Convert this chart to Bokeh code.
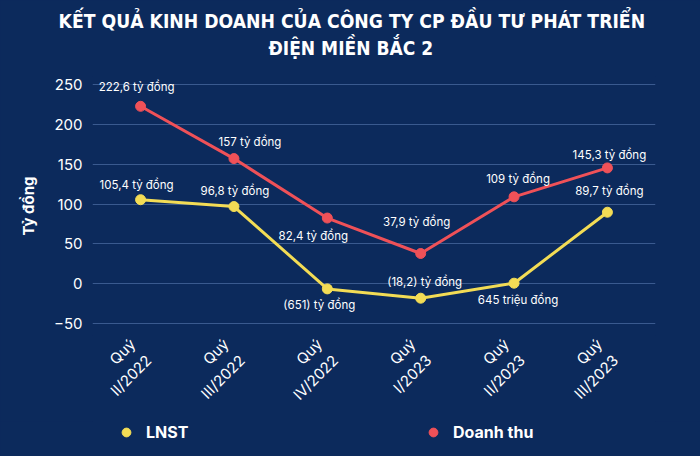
import math
from bokeh.plotting import figure
from bokeh.layouts import column
from bokeh.models import Title, Legend, LegendItem, FixedTicker, ColumnDataSource, Range1d
from bokeh.core.properties import value
from bokeh.embed import file_html
from bokeh.resources import INLINE

title_lines = ["KẾT QUẢ KINH DOANH CỦA CÔNG TY CP ĐẦU TƯ PHÁT TRIỂN", "ĐIỆN MIỀN BẮC 2"]
quarters = ["Quý\nII/2022", "Quý\nIII/2022", "Quý\nIV/2022", "Quý\nI/2023", "Quý\nII/2023", "Quý\nIII/2023"]
revenue = [222.6, 157, 82.4, 37.9, 109, 145.3]
profit = [105.4, 96.8, -6.51, -18.2, 0.645, 89.7]
revenue_labels = ["222,6 tỷ đồng", "157 tỷ đồng", "82,4 tỷ đồng", "37,9 tỷ đồng", "109 tỷ đồng", "145,3 tỷ đồng"]
profit_labels = ["105,4 tỷ đồng", "96,8 tỷ đồng", "(651) tỷ đồng", "(18,2) tỷ đồng", "645 triệu đồng", "89,7 tỷ đồng"]
y_ticks = [-50, 0, 50, 100, 150, 200, 250]

BG = "#0c2a5c"
RED = "#ef5158"
YELLOW = "#f3dc55"
GRID = "#3a5a8f"
FONT = "Inter"
TFONT = "DejaVu Sans Condensed"

FL, FW, FR = 92, 563, 45  # left border, frame width, right border

# ---- main chart ----
xs = list(range(len(quarters)))
p = figure(frame_width=FW, frame_height=259, output_backend="svg", toolbar_location=None,
           x_range=Range1d(-0.515, 5.515), y_range=Range1d(-65, 260),
           min_border_left=FL, min_border_right=FR, min_border_top=0, min_border_bottom=0)
p.background_fill_color = BG
p.border_fill_color = BG
p.outline_line_color = None

# titles stacked above the frame (nearest first)
gap_near = Title(text=" ", text_font_size="1px", standoff=13, text_color=BG)
t2 = Title(text=title_lines[1], align="left", text_color="white",
           text_font=TFONT, text_font_size="19px", text_font_style="bold",
           standoff=2.4, offset=176)
t1 = Title(text=title_lines[0], align="left", text_color="white",
           text_font=TFONT, text_font_size="19.2px", text_font_style="bold",
           standoff=2.4, offset=-34)
gap_top = Title(text=" ", text_font_size="1px", standoff=4, text_color=BG)
p.add_layout(gap_near, "above")
p.add_layout(t2, "above")
p.add_layout(t1, "above")
p.add_layout(gap_top, "above")

p.xgrid.grid_line_color = None
p.ygrid.grid_line_color = GRID
p.ygrid.grid_line_width = 1
p.yaxis.ticker = FixedTicker(ticks=y_ticks)
p.xaxis.ticker = FixedTicker(ticks=xs)
p.xaxis.major_label_overrides = {i: q for i, q in enumerate(quarters)}

for ax in (p.xaxis, p.yaxis):
    ax.axis_line_color = None
    ax.major_tick_line_color = None
    ax.minor_tick_line_color = None
    ax.major_tick_out = 0
    ax.major_tick_in = 0
    ax.minor_tick_out = 0
    ax.major_label_text_color = "white"
    ax.major_label_text_font = FONT
    ax.major_label_text_font_size = "15px"

p.xaxis.major_label_orientation = math.pi / 4
p.xaxis.major_label_standoff = 14
p.yaxis.major_label_standoff = 10
p.yaxis.axis_label = "Tỷ đồng"
p.yaxis.axis_label_text_color = "white"
p.yaxis.axis_label_text_font = FONT
p.yaxis.axis_label_text_font_size = "15px"
p.yaxis.axis_label_text_font_style = "bold"
p.yaxis.axis_label_standoff = 13

src = ColumnDataSource(dict(x=xs, rev=revenue, pro=profit))
p.line("x", "rev", source=src, color=RED, line_width=3)
p.scatter("x", "rev", source=src, color=RED, size=10)
p.line("x", "pro", source=src, color=YELLOW, line_width=3)
p.scatter("x", "pro", source=src, color=YELLOW, size=10)

# label offsets (screen px)
rev_dx = [-4, 16, -14, -4, 4, 2]
rev_dy = [19, 17, -18, 31, 18, 13]
pro_dx = [-4, 1, -8, 4, 4, 2]
pro_dy = [15, 16, -16, 16, -17, 21]
src2 = ColumnDataSource(dict(x=xs, rev=revenue, pro=profit, rl=revenue_labels, pl=profit_labels,
                             rdx=rev_dx, rdy=[-d for d in rev_dy], pdx=pro_dx, pdy=[-d for d in pro_dy]))
p.text("x", "rev", text="rl", source=src2, x_offset="rdx", y_offset="rdy",
       text_color="white", text_font=value(FONT), text_font_size="11.5px",
       text_align="center", text_baseline="middle")
p.text("x", "pro", text="pl", source=src2, x_offset="pdx", y_offset="pdy",
       text_color="white", text_font=value(FONT), text_font_size="11.5px",
       text_align="center", text_baseline="middle")

# ---- legend strip ----
lg = figure(frame_width=FW, frame_height=36, output_backend="svg", toolbar_location=None,
            x_axis_location=None, y_axis_location=None,
            x_range=Range1d(0, 1), y_range=Range1d(0, 1),
            min_border_left=FL, min_border_right=FR, min_border_top=0, min_border_bottom=0)
lg.grid.visible = False
lg.background_fill_color = BG
lg.border_fill_color = BG
lg.outline_line_color = None
legend_y = lg.scatter(x=[-10], y=[-10], color=YELLOW, size=18)
legend_r = lg.scatter(x=[-10], y=[-10], color=RED, size=18)
legend_kw = dict(glyph_width=22, glyph_height=22, label_standoff=9,
                 label_text_color="white", label_text_font=FONT, label_text_font_size="16px",
                 label_text_font_style="bold", background_fill_alpha=0, border_line_alpha=0,
                 margin=0, padding=0)
legend_lnst = Legend(items=[LegendItem(label="LNST", renderers=[legend_y])],
                     location=(23, 14), **legend_kw)
legend_dt = Legend(items=[LegendItem(label="Doanh thu", renderers=[legend_r])],
                   location=(330, 14), **legend_kw)
lg.add_layout(legend_lnst)
lg.add_layout(legend_dt)

layout = column(p, lg, spacing=0)
layout.styles = {"background-color": BG}
open("out.html", "w").write(file_html(layout, INLINE))
